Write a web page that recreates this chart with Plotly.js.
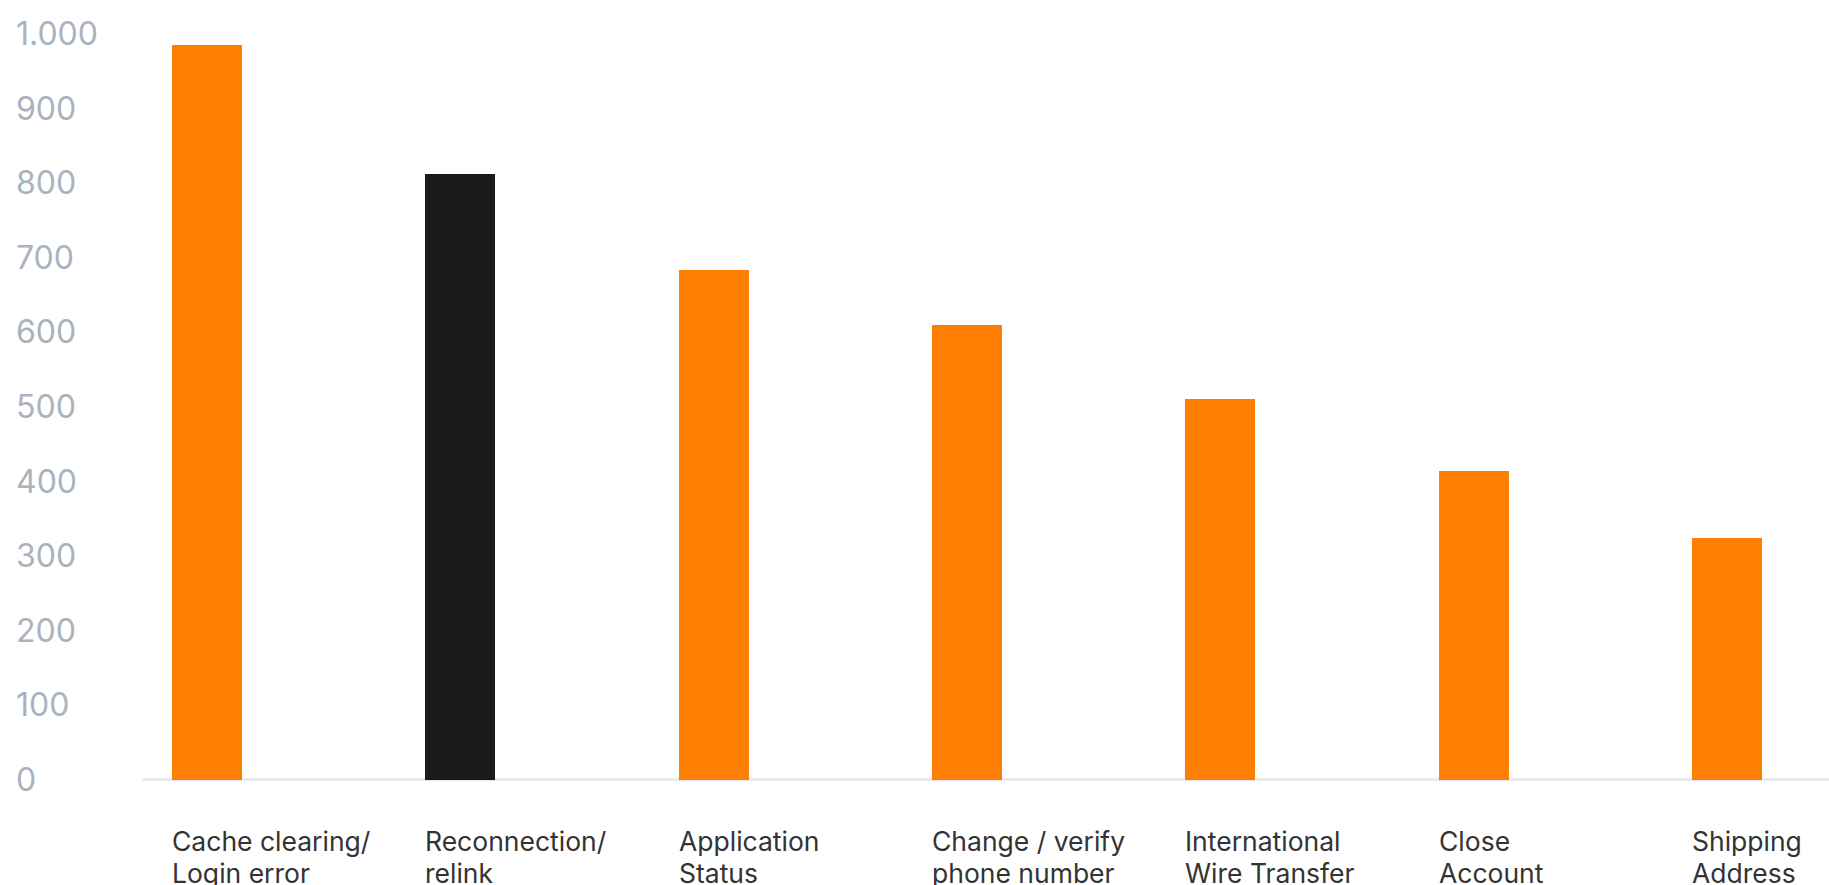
<!DOCTYPE html>
<html>
<head>
<meta charset="utf-8">
<script src="https://cdn.plot.ly/plotly-3.0.1.min.js"></script>
<style>
  html, body { margin: 0; padding: 0; background: #ffffff; }
  #chart { width: 1829px; height: 885px; }
</style>
</head>
<body>
<div id="chart"></div>
<script>
// ---- data ----
const categories = [
  "Cache clearing/ Login error",
  "Reconnection/ relink",
  "Application Status",
  "Change / verify phone number",
  "International Wire Transfer",
  "Close Account",
  "Shipping Address"
];
const tickLabels = [
  "Cache clearing/<br>Login error",
  "Reconnection/<br>relink",
  "Application<br>Status",
  "Change / verify<br>phone number",
  "International<br>Wire Transfer",
  "Close<br>Account",
  "Shipping<br>Address"
];
const values = [985, 812, 684, 609, 510, 414, 324];
const highlighted = [false, true, false, false, false, false, false];

// ---- style ----
const ORANGE = "#ff7f05";
const DARK = "#1a1a1a";
const barWidth = 0.276;
const FONT = "Inter, 'Noto Sans', sans-serif";

const trace = {
  type: "bar",
  x: categories,
  y: values,
  width: barWidth,
  marker: { color: highlighted.map(h => h ? DARK : ORANGE), line: { width: 0 } },
  hoverinfo: "x+y",
  showlegend: false
};

// one annotation per label line, left-aligned at the bar's left edge
const annotations = [];
tickLabels.forEach((t, i) => {
  t.split("<br>").forEach((line, j) => {
    annotations.push({
      x: i - barWidth / 2,
      y: 0,
      xref: "x",
      yref: "paper",
      xanchor: "left",
      yanchor: "top",
      align: "left",
      showarrow: false,
      text: line,
      xshift: -2,
      yshift: -21 - j * 31.6,
      font: { family: FONT, size: 26.5, color: "#333333" }
    });
  });
});

const W = 1829, H = 885;
const plotLeft = 142, marginL = 12;

const layout = {
  width: W,
  height: H,
  margin: { l: marginL, r: 0, t: 4, b: 83, pad: 0 },
  paper_bgcolor: "#ffffff",
  plot_bgcolor: "#ffffff",
  separators: ",.",
  font: { family: FONT },
  bargap: 0,
  xaxis: {
    type: "category",
    domain: [(plotLeft - marginL) / (W - marginL), 1],
    range: [-0.2566, 6.403],
    showticklabels: false,
    showgrid: false,
    showline: false,
    zeroline: false,
    ticks: ""
  },
  yaxis: {
    range: [-30, 1040],
    tickvals: [0, 100, 200, 300, 400, 500, 600, 700, 800, 900, 1000],
    anchor: "free",
    position: 0,
    ticklabelposition: "inside",
    ticks: "",
    separatethousands: true,
    showgrid: false,
    showline: false,
    zeroline: true,
    zerolinecolor: "#e6eaf3",
    zerolinewidth: 3,
    tickfont: { family: FONT, size: 32, color: "#a9b3bf" }
  },
  annotations: annotations
};

Plotly.newPlot("chart", [trace], layout, { displayModeBar: false });
</script>
</body>
</html>
